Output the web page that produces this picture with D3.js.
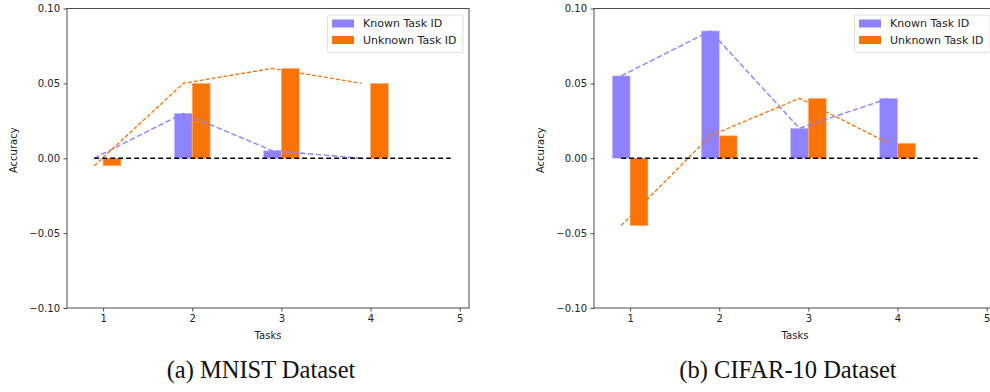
<!DOCTYPE html>
<html>
<head>
<meta charset="utf-8">
<script src="https://cdn.jsdelivr.net/npm/d3@7"></script>
<style>
  body { margin: 0; background: #fff; }
  svg { display: block; }
  .tick text { font-family: "DejaVu Sans", sans-serif; font-size: 10px; fill: #222; }
  .axis-label { font-family: "DejaVu Sans", sans-serif; font-size: 10px; fill: #222; }
  .caption { font-family: "Liberation Serif", serif; font-size: 24.5px; fill: #111; }
</style>
</head>
<body>
<svg id="chart" width="990" height="392"></svg>
<script>
var tasks = [1, 2, 3, 4];
var xTicks = [1, 2, 3, 4, 5];
var yTicks = [-0.10, -0.05, 0.00, 0.05, 0.10];
var seriesNames = ["Known Task ID", "Unknown Task ID"];

// (a) MNIST
var mnistKnown = [0.0, 0.03, 0.005, 0.0];
var mnistUnknown = [-0.005, 0.05, 0.06, 0.05];

// (b) CIFAR-10
var cifarKnown = [0.055, 0.085, 0.02, 0.04];
var cifarUnknown = [-0.045, 0.015, 0.04, 0.01];

var knownColor = "#8e82fe";
var unknownColor = "#f97306";

var svg = d3.select("#chart");

function drawPanel(left, known, unknown, caption) {
    var width = 402, top = 8.5, height = 299.5;
    var g = svg.append("g").attr("transform", "translate(" + left + "," + top + ")");

    var x = d3.scaleLinear().domain([0.595, 5.105]).range([0, width]);
    var y = d3.scaleLinear().domain([-0.10, 0.10]).range([height, 0]);
    var bw = x(0.2) - x(0);

    // bars
    g.selectAll(".known").data(tasks).enter().append("rect")
        .attr("class", "known")
        .attr("x", function(d) { return x(d - 0.2); })
        .attr("width", bw)
        .attr("y", function(d, i) { return y(Math.max(0, known[i])); })
        .attr("height", function(d, i) { return Math.abs(y(known[i]) - y(0)); })
        .attr("fill", knownColor)
        .attr("stroke", "#c9c3ff").attr("stroke-width", 0.6);

    g.selectAll(".unknown").data(tasks).enter().append("rect")
        .attr("class", "unknown")
        .attr("x", function(d) { return x(d); })
        .attr("width", bw)
        .attr("y", function(d, i) { return y(Math.max(0, unknown[i])); })
        .attr("height", function(d, i) { return Math.abs(y(unknown[i]) - y(0)); })
        .attr("fill", unknownColor)
        .attr("stroke", "#fbb27e").attr("stroke-width", 0.6);

    // dashed trend lines
    var line = d3.line()
        .x(function(d) { return x(d[0] - 0.1); })
        .y(function(d) { return y(d[1]); });

    g.append("path")
        .attr("d", line(tasks.map(function(t, i) { return [t, known[i]]; })))
        .attr("fill", "none")
        .attr("stroke", knownColor)
        .attr("stroke-width", 1.4)
        .attr("stroke-dasharray", "5.5,2.5");

    g.append("path")
        .attr("d", line(tasks.map(function(t, i) { return [t, unknown[i]]; })))
        .attr("fill", "none")
        .attr("stroke", unknownColor)
        .attr("stroke-width", 1.3)
        .attr("stroke-dasharray", "4,2");

    // zero line
    g.append("line")
        .attr("x1", x(0.9)).attr("x2", x(4.9))
        .attr("y1", y(0)).attr("y2", y(0))
        .attr("stroke", "#000")
        .attr("stroke-width", 1.4)
        .attr("stroke-dasharray", "5,3");

    // axes
    var xAxis = g.append("g")
        .attr("transform", "translate(0," + height + ")")
        .call(d3.axisBottom(x).tickValues(xTicks).tickSize(3.5).tickPadding(3.5).tickFormat(d3.format("d")));
    var yAxis = g.append("g")
        .call(d3.axisLeft(y).tickValues(yTicks).tickSize(3.5).tickPadding(3.5)
            .tickFormat(function(d) { return d3.format(".2f")(d).replace("-", "\u2212"); }));
    [xAxis, yAxis].forEach(function(a) {
        a.select(".domain").remove();
        a.selectAll(".tick line").attr("stroke", "#222").attr("stroke-width", 0.8);
    });

    g.append("rect")
        .attr("width", width).attr("height", height)
        .attr("fill", "none").attr("stroke", "#222").attr("stroke-width", 0.8);

    g.append("text").attr("class", "axis-label")
        .attr("x", width / 2).attr("y", height + 31)
        .attr("text-anchor", "middle")
        .text("Tasks");

    g.append("text").attr("class", "axis-label")
        .attr("transform", "rotate(-90)")
        .attr("x", -height / 2 + 8).attr("y", -50)
        .attr("text-anchor", "middle")
        .text("Accuracy");

    // legend
    var lg = g.append("g").attr("transform", "translate(" + (width - 141.5) + ",6.5)");
    lg.append("rect")
        .attr("width", 135.5).attr("height", 37.5).attr("rx", 2)
        .attr("fill", "#fff").attr("fill-opacity", 0.8)
        .attr("stroke", "#d8d8d8").attr("stroke-width", 0.8);
    var colors = [knownColor, unknownColor];
    seriesNames.forEach(function(name, i) {
        lg.append("rect")
            .attr("x", 4.5).attr("y", 4.5 + i * 16.5)
            .attr("width", 22).attr("height", 8)
            .attr("fill", colors[i]);
        lg.append("text").attr("class", "axis-label")
            .attr("x", 35.5).attr("y", 8.5 + i * 16.5)
            .attr("dy", "0.35em")
            .style("font-size", "11px")
            .text(name);
    });

    svg.append("text").attr("class", "caption")
        .attr("x", left + width / 2 - 7).attr("y", 378)
        .attr("text-anchor", "middle")
        .text(caption);
}

drawPanel(67, mnistKnown, mnistUnknown, "(a) MNIST Dataset");
drawPanel(594, cifarKnown, cifarUnknown, "(b) CIFAR-10 Dataset");
</script>
</body>
</html>
